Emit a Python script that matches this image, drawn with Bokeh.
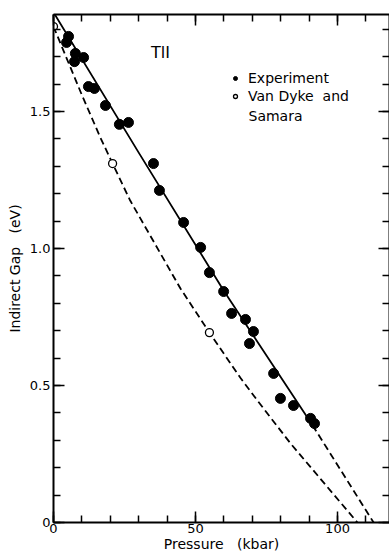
from bokeh.plotting import figure
from bokeh.models import (LinearAxis, SingleIntervalTicker, CustomJSTickFormatter, Legend,
                          LegendItem, Label, Range1d)
from bokeh.embed import file_html
from bokeh.resources import INLINE

# Experiment (filled circles)
exp_p = [5.3, 4.6, 7.7, 7.4, 10.6, 12.3, 14.4, 18.3, 23.2, 26.4, 35.2, 37.3, 45.8, 51.8,
         54.9, 59.9, 62.7, 67.6, 70.4, 69.0, 77.5, 79.9, 84.5, 90.5, 91.9]
exp_e = [1.774, 1.752, 1.712, 1.682, 1.697, 1.591, 1.584, 1.522, 1.453, 1.460, 1.310, 1.212,
         1.095, 1.004, 0.912, 0.843, 0.763, 0.741, 0.697, 0.653, 0.544, 0.453, 0.427, 0.380, 0.361]

# Van Dyke and Samara (open circles)
vds_p = [0.0, 20.8, 54.9]
vds_e = [1.81, 1.31, 0.693]

# Fit line (solid) and its extrapolation (dashed)
fit_p = [0, 30, 60, 91.2]
fit_e = [1.862, 1.35, 0.845, 0.355]
ext_p = [91.2, 112.7]
ext_e = [0.355, 0.0]

# Theory curve (dashed)
th_p = [0, 10, 16.5, 20.8, 27, 44.7, 54.9, 65.8, 71.8, 83.5, 107]
th_e = [1.81, 1.56, 1.405, 1.31, 1.175, 0.854, 0.693, 0.528, 0.445, 0.288, 0.0]

FONT = "DejaVu Sans"
NB = "\u00a0"

p = figure(frame_width=336, frame_height=508, output_backend="svg", toolbar_location=None,
           x_range=Range1d(0, 118.3), y_range=Range1d(0, 1.854),
           min_border_left=53, min_border_right=0, min_border_top=14, min_border_bottom=28)
p.outline_line_color = None
p.grid.visible = False
p.background_fill_color = "white"

def style(ax, labels=True):
    ax.axis_line_width = 2
    ax.axis_line_color = "black"
    ax.major_tick_in = 11
    ax.major_tick_out = 0
    ax.minor_tick_in = 7
    ax.minor_tick_out = 0
    ax.major_tick_line_width = 1.5
    ax.minor_tick_line_width = 1.5
    ax.major_tick_line_color = "black"
    ax.minor_tick_line_color = "black"
    ax.major_label_text_font = FONT
    ax.major_label_text_color = "black"
    ax.major_label_text_font_size = "13px"
    if labels:
        ax.major_label_standoff = 3
    else:
        ax.formatter = CustomJSTickFormatter(code="return '';")
        ax.major_label_standoff = 0

xt = SingleIntervalTicker(interval=50, num_minor_ticks=5)
yt = SingleIntervalTicker(interval=0.5, num_minor_ticks=5)

p.xaxis.ticker = xt
p.yaxis.ticker = yt
p.yaxis.formatter = CustomJSTickFormatter(code="return tick == 0 ? '0' : tick.toFixed(1);")
style(p.xaxis[0])
style(p.yaxis[0])
p.xaxis.major_label_standoff = 1
p.xaxis.axis_label = "Pressure" + NB * 3 + "(kbar)"
p.yaxis.axis_label = "Indirect Gap" + NB * 3 + "(eV)"
for ax in (p.xaxis[0], p.yaxis[0]):
    ax.axis_label_text_font = FONT
    ax.axis_label_text_font_size = "14px"
    ax.axis_label_text_font_style = "normal"
    ax.axis_label_text_color = "black"
p.xaxis.axis_label_standoff = 0
p.yaxis.axis_label_standoff = 4

top = LinearAxis(ticker=SingleIntervalTicker(interval=50, num_minor_ticks=5))
style(top, labels=False)
p.add_layout(top, "above")
right = LinearAxis(ticker=SingleIntervalTicker(interval=0.5, num_minor_ticks=5))
style(right, labels=False)
p.add_layout(right, "right")

p.line(fit_p, fit_e, line_color="black", line_width=1.8)
p.line(ext_p, ext_e, line_color="black", line_width=1.8, line_dash="7 4")
p.line(th_p, th_e, line_color="black", line_width=1.8, line_dash="7 4")

r_exp = p.scatter(exp_p, exp_e, size=10, marker="circle", fill_color="black", line_color="black")
r_vds = p.scatter(vds_p, vds_e, size=8, marker="circle", fill_color="white", line_color="black",
                  line_width=1.3)

legend = Legend(items=[LegendItem(label="Experiment", renderers=[r_exp]),
                       LegendItem(label="Van Dyke" + NB * 2 + "and", renderers=[r_vds])],
                location=(177, 417), padding=0, margin=0, spacing=0,
                label_height=18, glyph_height=18, glyph_width=10, label_standoff=8,
                label_text_font=FONT, label_text_font_size="14px", label_text_color="black",
                border_line_color=None, background_fill_alpha=0)
p.add_layout(legend)

p.add_layout(Label(x=195, y=407, x_units="screen", y_units="screen", text="Samara",
                   text_font=FONT, text_font_size="14px", text_baseline="middle",
                   text_color="black"))
p.add_layout(Label(x=107, y=470, x_units="screen", y_units="screen", text="TlI",
                   text_font=FONT, text_font_size="16px", text_baseline="middle",
                   text_align="center", text_color="black"))

open("out.html", "w").write(file_html(p, INLINE))
